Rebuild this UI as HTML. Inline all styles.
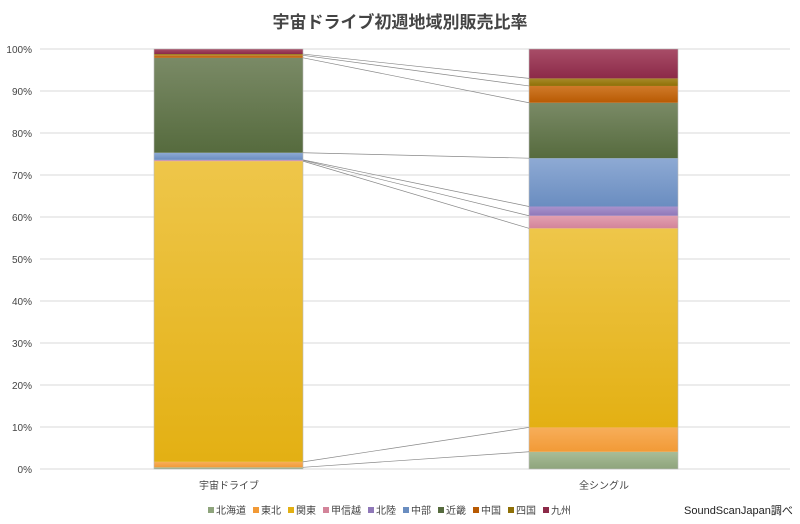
<!DOCTYPE html>
<html><head><meta charset="utf-8"><style>
html,body{margin:0;padding:0;background:#fff;}
svg{display:block;font-family:"Liberation Sans","Noto Sans CJK JP",sans-serif;}
</style></head><body>
<svg id="c" width="800" height="524" xmlns="http://www.w3.org/2000/svg">
<defs>
</defs>
<text x="400" y="28" text-anchor="middle" font-size="17" font-weight="bold" fill="#444">宇宙ドライブ初週地域別販売比率</text>
<g id="g"></g>
<text x="229" y="489" text-anchor="middle" font-size="10" fill="#444">宇宙ドライブ</text>
<text x="604" y="489" text-anchor="middle" font-size="10" fill="#444">全シングル</text>
<text x="684" y="514" font-size="11" fill="#222">SoundScanJapan調べ</text>
</svg>
<script>
var ns="http://www.w3.org/2000/svg";
var g=document.getElementById('g'),defs=document.querySelector('defs');
function el(t,a,p){var e=document.createElementNS(ns,t);for(var k in a)e.setAttribute(k,a[k]);(p||g).appendChild(e);return e;}
function Y(p){return 469-p*4.2;}
for(var i=0;i<=10;i++){var y=Y(i*10);
el('line',{x1:40,x2:790,y1:y,y2:y,stroke:'#d9d9d9','stroke-width':1});
var t=el('text',{x:32,y:y+4,'text-anchor':'end','font-size':10,fill:'#444'});t.textContent=(i*10)+'%';}
var names=['北海道','東北','関東','甲信越','北陸','中部','近畿','中国','四国','九州'];
var cols=[['#a9bd98','#8ea47c'],['#f7ae5a','#f29a36'],['#eec64a','#e3b013'],['#e2a0b0','#d3849a'],['#a892cc','#8f78b8'],['#8eaad4','#6a8dc0'],['#7a8a66','#566b3e'],['#d07a2a','#b85a02'],['#a88a2a','#8f7006'],['#a84d68','#8c2a48']];
cols.forEach(function(c,i){var lg=el('linearGradient',{id:'g'+i,x1:0,y1:0,x2:0,y2:1},defs);
el('stop',{offset:0,'stop-color':c[0]},lg);el('stop',{offset:1,'stop-color':c[1]},lg);});
var L=[0,0.4,1.7,73.3,73.5,73.6,75.3,97.9,98.5,98.8,100];
var R=[0,4.1,9.9,57.3,60.3,62.5,74.0,87.2,91.2,93.0,100];
function bar(x,b){for(var i=0;i<10;i++){el('rect',{x:x,y:Y(b[i+1]),width:149,height:Y(b[i])-Y(b[i+1]),fill:'url(#g'+i+')'});}
el('rect',{x:x,y:Y(100),width:149,height:420,fill:'none',stroke:'#bbb','stroke-width':0.6});}
bar(154,L);bar(529,R);
for(var i=1;i<10;i++)el('line',{x1:303,y1:Y(L[i]),x2:529,y2:Y(R[i]),stroke:'#888','stroke-width':0.7});
var x=208;
names.forEach(function(n,i){el('rect',{x:x,y:507,width:6,height:6,fill:cols[i][1]});
var t=el('text',{x:x+8,y:514,'font-size':10,fill:'#444'});t.textContent=n;x+=8+n.length*10+7;});
</script>
</body></html>
